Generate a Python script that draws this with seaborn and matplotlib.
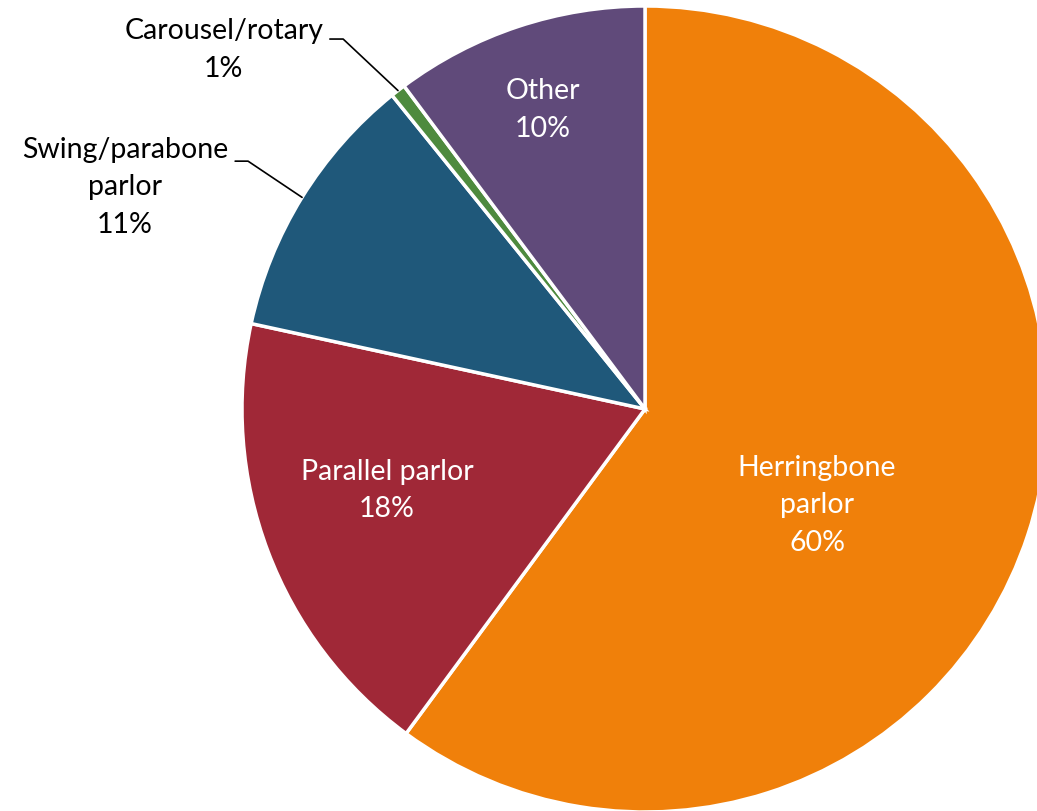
import matplotlib
matplotlib.use("Agg")
import matplotlib.pyplot as plt
import seaborn as sns
import numpy as np

categories = ["Herringbone\nparlor", "Parallel parlor", "Swing/parabone\nparlor", "Carousel/rotary", "Other"]
values = [60.1, 18.3, 10.8, 0.6, 10.2]
colors = ["#F0800A", "#A02837", "#1F587A", "#4E8A3E", "#604A7A"]

sns.set_theme(style="white")
plt.rcParams['font.family'] = ['Lato', 'DejaVu Sans']

fig = plt.figure(figsize=(10.37, 8.12), dpi=100)
W, H = 1037, 812
cx, cy, R = 645, 410, 403
ax = fig.add_axes([(cx - R) / W, (H - cy - R) / H, 2 * R / W, 2 * R / H])

wedges, _ = ax.pie(values, colors=colors, startangle=90, counterclock=False,
                   wedgeprops=dict(edgecolor="white", linewidth=2.5))
ax.set_xlim(-1, 1)
ax.set_ylim(-1, 1)
ax.set_aspect("equal")
ax.axis("off")

def pct(v):
    return f"{int(np.floor(v + 0.5))}%"

fs = 20.5
ls = 1.55
# inside labels
inside = {0: (0.427, -0.236), 1: (-0.64, -0.2), 4: (-0.253, 0.745)}
for i, (x, y) in inside.items():
    ax.text(x, y, f"{categories[i]}\n{pct(values[i])}", ha="center", va="center",
            color="white", fontsize=fs, linespacing=ls)

# outside labels with leader lines
outside = {3: ((-1.045, 0.893), (-0.782, 0.918), (-0.749, 0.918)),
           2: ((-1.29, 0.553), (-1.017, 0.615), (-0.985, 0.615))}
for i, (tpos, start, elbow) in outside.items():
    w = wedges[i]
    mid = np.deg2rad((w.theta1 + w.theta2) / 2)
    px, py = np.cos(mid), np.sin(mid)
    ax.plot([start[0], elbow[0], px], [start[1], elbow[1], py], color="black", lw=1.2,
            clip_on=False)
    ax.text(tpos[0], tpos[1], f"{categories[i]}\n{pct(values[i])}", ha="center", va="center",
            color="black", fontsize=fs, linespacing=ls)

fig.savefig("out.png", dpi=100, facecolor="white")
